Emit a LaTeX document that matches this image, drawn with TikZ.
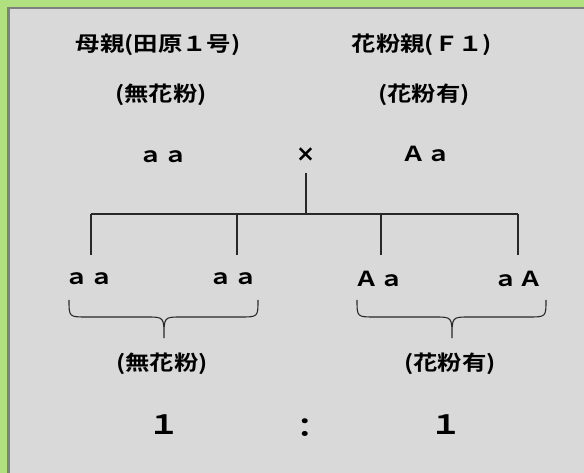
\documentclass[tikz,border=0pt]{standalone}
\usepackage{graphicx}
\usepackage{fontspec}
\setmainfont{Noto Sans CJK JP}[BoldFont={Noto Sans CJK JP Bold}]
\newfontfamily\symfont{DejaVu Sans}
\definecolor{framegreen}{RGB}{176,224,128}
\definecolor{panelgrey}{RGB}{217,217,217}
\definecolor{edgegrey}{RGB}{128,128,128}
\definecolor{linegrey}{RGB}{40,40,40}
\newcommand{\wtxt}[1]{\scalebox{1.18}[1]{#1}}
\tikzset{
  lbl/.style={inner sep=0pt, font=\fontsize{15.5pt}{17pt}\selectfont\bfseries, text=black},
  big/.style={inner sep=0pt, font=\fontsize{20pt}{22pt}\selectfont\bfseries, text=black},
  tree/.style={draw=linegrey, line width=0.8pt},
  bracepath/.style={draw=linegrey, line width=0.8pt}
}
\begin{document}
\begin{tikzpicture}[x=0.75pt, y=-0.75pt]
\useasboundingbox (0,0) rectangle (584,473);
% frame
\fill[framegreen] (0,0) rectangle (584,473);
\fill[edgegrey] (7,7) rectangle (584,473);
\fill[panelgrey] (9.5,9.5) rectangle (584,473);
% header labels
\node[lbl] (mother) at (158,45) {\wtxt{母親(田原１号)}};
\node[lbl] (pollen) at (422,45) {\wtxt{花粉親(Ｆ１)}};
\node[lbl] (mtype) at (161,95) {\wtxt{(無花粉)}};
\node[lbl] (ptype) at (424,95) {\wtxt{(花粉有)}};
\node[lbl] (mg) at (163,157) {\wtxt{ａａ}};
\node[lbl, font=\symfont\fontsize{17pt}{18pt}\selectfont\bfseries] (cross) at (305.5,155) {×};
\node[lbl] (pg) at (426,154) {\wtxt{Ａａ}};
% tree
\coordinate (top) at (306,173);
\coordinate (hub) at (306,214);
\coordinate (b1) at (91,214);
\coordinate (b2) at (237,214);
\coordinate (b3) at (381,214);
\coordinate (b4) at (518,214);
\coordinate (e1) at (91,255);
\coordinate (e2) at (237,255);
\coordinate (e3) at (381,255);
\coordinate (e4) at (518,255);
\draw[tree] (top) -- (hub);
\draw[tree] (b1) -- (b4);
\draw[tree] (b1) -- (e1);
\draw[tree] (b2) -- (e2);
\draw[tree] (b3) -- (e3);
\draw[tree] (b4) -- (e4);
% offspring
\node[lbl] (o1) at (89,279) {\wtxt{ａａ}};
\node[lbl] (o2) at (233,279) {\wtxt{ａａ}};
\node[lbl] (o3) at (379,279) {\wtxt{Ａａ}};
\node[lbl] (o4) at (518,279) {\wtxt{ａＡ}};
% braces
\draw[bracepath] (69,300) .. controls (69,317) .. (87,317) -- (147,317)
  .. controls (164,317) .. (164,338) .. controls (164,317) .. (181,317)
  -- (240,317) .. controls (258,317) .. (258,300);
\draw[bracepath] (357,300) .. controls (357,317) .. (375,317) -- (435,317)
  .. controls (452,317) .. (452,338) .. controls (452,317) .. (469,317)
  -- (528,317) .. controls (546,317) .. (546,300);
\node[lbl] (r1) at (162,364) {\wtxt{(無花粉)}};
\node[lbl] (r2) at (450,364) {\wtxt{(花粉有)}};
\node[big] (n1) at (164,425) {\wtxt{１}};
\node[big] (colon) at (305,428) {\wtxt{：}};
\node[big] (n2) at (446,425) {\wtxt{１}};
\end{tikzpicture}
\end{document}
